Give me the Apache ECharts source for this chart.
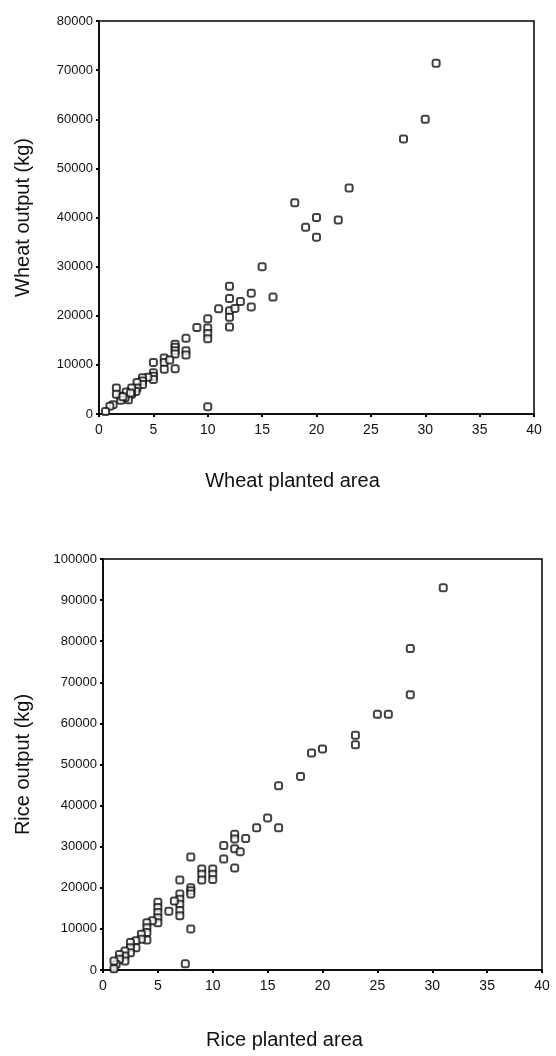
<!DOCTYPE html>
<html>
<head>
<meta charset="utf-8">
<script src="https://cdn.jsdelivr.net/npm/echarts@6/dist/echarts.min.js"></script>
<style>
  html, body { margin: 0; padding: 0; background: #fff; }
  #chart { width: 556px; height: 1056px; }
</style>
</head>
<body>
<div id="chart"></div>
<script>
// wheat: [planted area, output kg]
var wheatPoints = [
  [31, 71400], [30, 60000], [28, 56000], [23, 46000], [18, 43000], [19, 38000],
  [20, 40000], [20, 36000], [22, 39500], [15, 30000], [12, 26000], [12, 23500],
  [14, 24600], [16, 23800], [14, 21800], [13, 22900], [11, 21400], [12, 21000],
  [12.5, 21500], [12, 19700], [12, 17700], [10, 19400], [10, 17500], [10, 16400],
  [10, 15300], [9, 17600], [8, 15400], [8, 12900], [8, 12000], [7, 14200],
  [7, 13600], [7, 12900], [7, 12200], [7, 9200], [6, 11400], [6, 10500],
  [6, 9100], [6.5, 11000], [5, 10500], [5, 8400], [5, 7700], [5, 7000],
  [4.5, 7500], [4, 7400], [4, 6700], [4, 6000], [3.5, 6400], [3.5, 5300],
  [3.4, 4600], [3, 5300], [3, 4000], [2.7, 2900], [2.5, 4500], [2.4, 3300],
  [2, 3600], [2, 2800], [1.6, 5300], [1.6, 4000], [1.3, 1900], [1, 1600],
  [0.6, 500], [10, 1500], [2.2, 3500], [2.9, 4300]
];

// rice: [planted area, output kg]
var ricePoints = [
  [31, 93000], [28, 78200], [28, 67000], [25, 62200], [26, 62200], [23, 57100],
  [23, 54800], [20, 53800], [19, 52800], [18, 47100], [16, 44800], [15, 37000],
  [16, 34600], [14, 34600], [13, 32000], [12, 33000], [12, 31900], [12, 29500],
  [12.5, 28800], [12, 24800], [11, 30300], [11, 27000], [8, 27500], [9, 24600],
  [9, 23300], [9, 21900], [10, 24600], [10, 23300], [10, 22000], [7, 21900],
  [8, 20000], [8, 19300], [8, 18500], [7, 18500], [7, 17200], [7, 16000],
  [7, 14500], [7, 13200], [6.5, 16800], [6, 14300], [5, 16500], [5, 15200],
  [5, 14000], [5, 12700], [5, 11500], [4.5, 12000], [4, 11500], [4, 10300],
  [4, 9100], [4, 7300], [3.5, 8700], [3.5, 7500], [3, 7100], [3, 5400],
  [2.5, 6700], [2.5, 5400], [2.5, 4200], [2, 4600], [2, 3400], [2, 2200],
  [1.5, 3800], [1.5, 2600], [1.2, 1400], [1, 300], [1, 2200], [8, 10000],
  [7.5, 1500]
];

var xTicks = { min: 0, max: 40, interval: 5 };
var wheatY = { min: 0, max: 80000, interval: 10000 };
var riceY = { min: 0, max: 100000, interval: 10000 };

var labels = {
  wheatX: 'Wheat planted area',
  wheatY: 'Wheat output (kg)',
  riceX: 'Rice planted area',
  riceY: 'Rice output (kg)'
};

var chart = echarts.init(document.getElementById('chart'));

function xAxisOf(gridIndex, name, gap, shift) {
  return {
    type: 'value', gridIndex: gridIndex,
    min: xTicks.min, max: xTicks.max, interval: xTicks.interval,
    name: name, nameLocation: 'middle', nameGap: gap,
    nameTextStyle: { fontFamily: 'Liberation Sans, Arial', fontSize: 20, color: '#111', padding: [0, shift, 0, 0] },
    axisLine: { onZero: false, lineStyle: { color: '#000', width: 1.5 } },
    axisTick: { show: true, length: 3, inside: false, lineStyle: { color: '#000', width: 2 } },
    axisLabel: {
      margin: 9, fontFamily: 'Liberation Sans Narrow, Arial Narrow, Liberation Sans', fontSize: 14, color: '#111',
      formatter: function (v) { return String(v); }
    },
    splitLine: { show: false }
  };
}

function yAxisOf(gridIndex, range, name, gap) {
  return {
    type: 'value', gridIndex: gridIndex,
    min: range.min, max: range.max, interval: range.interval,
    name: name, nameLocation: 'middle', nameGap: gap,
    nameTextStyle: { fontFamily: 'Liberation Sans, Arial', fontSize: 20, color: '#111' },
    axisLine: { onZero: false, lineStyle: { color: '#000', width: 1.5 } },
    axisTick: { show: true, length: 3, lineStyle: { color: '#000', width: 2 } },
    axisLabel: {
      margin: 6, fontFamily: 'Liberation Sans, Arial', fontSize: 13, color: '#111',
      formatter: function (v) { return String(v); }
    },
    splitLine: { show: false }
  };
}

var markStyle = { color: '#fff', borderColor: '#111', borderWidth: 2 };

chart.setOption({
  animation: false,
  backgroundColor: '#fff',
  grid: [
    { left: 99, top: 21, width: 435, height: 393, show: true, borderColor: '#000', borderWidth: 1.5, backgroundColor: 'transparent' },
    { left: 103, top: 559, width: 439, height: 411, show: true, borderColor: '#000', borderWidth: 1.5, backgroundColor: 'transparent' }
  ],
  xAxis: [
    xAxisOf(0, labels.wheatX, 57, 48),
    xAxisOf(1, labels.riceX, 60, 76)
  ],
  yAxis: [
    yAxisOf(0, wheatY, labels.wheatY, 66),
    yAxisOf(1, riceY, labels.riceY, 70)
  ],
  series: [
    {
      type: 'scatter', xAxisIndex: 0, yAxisIndex: 0,
      data: wheatPoints, symbol: 'roundRect', symbolSize: 7,
      itemStyle: markStyle
    },
    {
      type: 'scatter', xAxisIndex: 1, yAxisIndex: 1,
      data: ricePoints, symbol: 'roundRect', symbolSize: 7,
      itemStyle: markStyle
    }
  ]
});
</script>
</body>
</html>
